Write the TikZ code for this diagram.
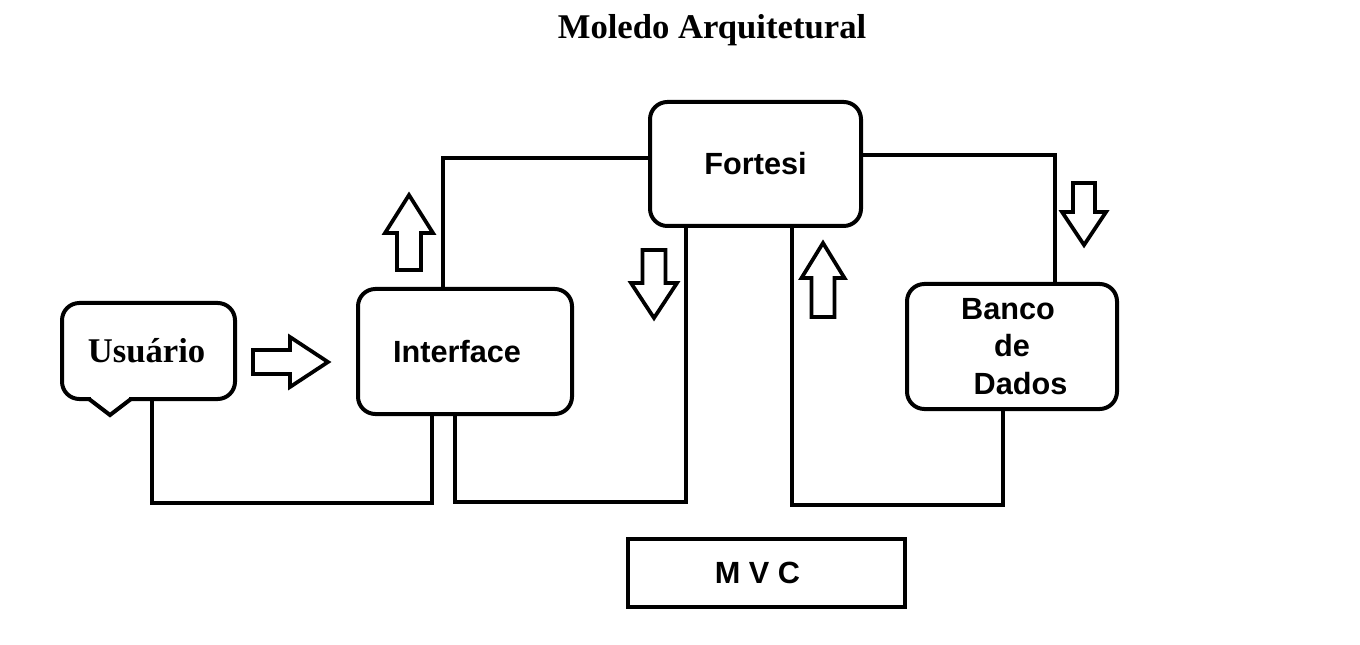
\documentclass[tikz,border=0pt]{standalone}
\usepackage{fontspec}
\setmainfont{Liberation Serif}
\setsansfont{Liberation Sans}
\usetikzlibrary{positioning}

\tikzset{
  box/.style={draw, line width=3pt, rounded corners=13pt, fill=white,
    font=\sffamily\bfseries\fontsize{23}{26}\selectfont},
  wire/.style={line width=3pt},
  pics/fatarrow/.style args={#1/#2/#3/#4}{code={
    % #1 length, #2 shaft length, #3 shaft half width, #4 head half width
    \draw[line width=2.8pt, line join=miter]
      (0,-#3) -- (#2,-#3) -- (#2,-#4) -- (#1,0) -- (#2,#4) -- (#2,#3) -- (0,#3) -- cycle;
  }}
}

\begin{document}
\begin{tikzpicture}[x=0.75pt, y=-0.75pt]
  \useasboundingbox (0,0) rectangle (1360,645);

  \node[font=\rmfamily\bfseries\fontsize{26}{30}\selectfont] (title) at (712,30) {Moledo Arquitetural};

  % blocks
  \node[box, minimum width=129.75pt, minimum height=72pt,
        font=\rmfamily\bfseries\fontsize{26}{30}\selectfont] (usuario) at (148.5,351) {Usuário\hspace*{3pt}};
  \node[box, minimum width=160.5pt, minimum height=93.75pt] (interface) at (465,351.5) {Interface\hspace*{12pt}};
  \node[box, minimum width=158.25pt, minimum height=93pt] (fortesi) at (755.5,164) {Fortesi};
  \node[box, minimum width=157.5pt, minimum height=93.75pt, align=center] (banco) at (1012,346.5)
       {Banco\hspace*{6pt}\\[2pt] de\\[2pt] \ \ Dados};
  \node[box, rounded corners=0pt, minimum width=207.75pt, minimum height=51pt] (mvc) at (766.5,573) {M V C\hspace*{13.5pt}};

  % tail of the speech bubble
  \fill[white] (91,395) rectangle (129,403);
  \draw[wire, line join=miter] (89,399) -- (110,415) -- (131,399);

  % connectors
  \draw[wire] (152,0 |- usuario.south) |- (432,503) -- (432,0 |- interface.south);
  \draw[wire] (443,0 |- interface.north) |- (fortesi.west |- 0,158);
  \draw[wire] (455,0 |- interface.south) |- (686,502) -- (686,0 |- fortesi.south);
  \draw[wire] (792,0 |- fortesi.south) |- (1003,505) -- (1003,0 |- banco.south);
  \draw[wire] (fortesi.east |- 0,155) -| (1055,0 |- banco.north);

  % flow arrows
  \pic at (253,362) {fatarrow=75/37/12/25};
  \pic[rotate=90] at (409,270) {fatarrow=75/37/12/24};
  \pic[rotate=-90] at (654,250) {fatarrow=68/33/11.5/23};
  \pic[rotate=90] at (823,317) {fatarrow=74/39/11.5/21.5};
  \pic[rotate=-90] at (1084,183) {fatarrow=62/29/11/22};
\end{tikzpicture}
\end{document}
